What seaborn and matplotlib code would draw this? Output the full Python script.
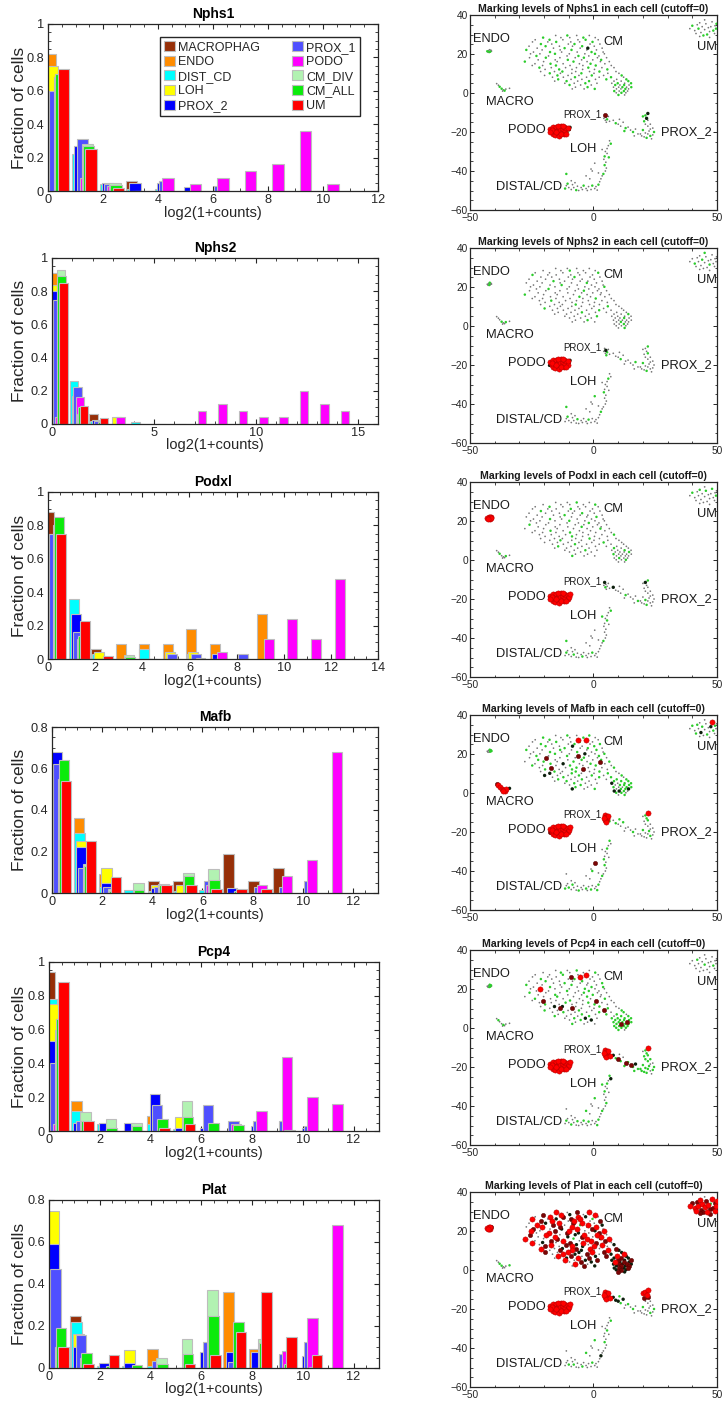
import numpy as np
import matplotlib
matplotlib.use("Agg")
import matplotlib.pyplot as plt
import seaborn as sns
from matplotlib.patches import Patch
from matplotlib.ticker import MultipleLocator, FuncFormatter

# ---------------- DATA ----------------
GROUPS = ['MACROPHAG', 'ENDO', 'DIST_CD', 'LOH', 'PROX_2',
          'PROX_1', 'PODO', 'CM_DIV', 'CM_ALL', 'UM']
GENES = ['Nphs1', 'Nphs2', 'Podxl', 'Mafb', 'Pcp4', 'Plat']

# fraction of cells per integer log2(1+counts) bin (index = bin)
NPHS1 = {
    'MACROPHAG': [0.80, 0, 0, 0.06],
    'ENDO': [0.82],
    'DIST_CD': [0.70, 0.22, 0.04, 0.01, 0.01],
    'LOH': [0.75, 0.20],
    'PROX_2': [0.56, 0.27, 0.05, 0.05, 0.05, 0.025],
    'PROX_1': [0.60, 0.31, 0.04, 0, 0.06, 0, 0.03],
    'PODO': [0, 0.08, 0.03, 0, 0.08, 0.04, 0.08, 0.12, 0.16, 0.36, 0.04],
    'CM_DIV': [0.68, 0.28, 0.045],
    'CM_ALL': [0.70, 0.27, 0.035],
    'UM': [0.73, 0.25, 0.02],
}
NPHS2 = {
    'MACROPHAG': [0.85, 0, 0.06],
    'ENDO': [0.91],
    'DIST_CD': [0.70, 0.26, 0.02, 0, 0.012],
    'LOH': [0.84, 0, 0, 0.04],
    'PROX_2': [0.80, 0.17, 0.025],
    'PROX_1': [0.75, 0.22, 0.02],
    'PODO': [0.04, 0.16, 0, 0.04, 0, 0, 0, 0.08, 0.12, 0.08, 0.04, 0.04, 0.20, 0.12, 0.08],
    'CM_DIV': [0.93, 0.06],
    'CM_ALL': [0.89, 0.10, 0.01],
    'UM': [0.85, 0.11, 0.035],
}
PODXL = {
    'MACROPHAG': [0.88, 0, 0.06],
    'ENDO': [0, 0, 0, 0.09, 0.09, 0.09, 0.18, 0.09, 0, 0.27],
    'DIST_CD': [0.60, 0.36, 0.03, 0, 0.06, 0, 0.03],
    'LOH': [0.75, 0, 0.04, 0, 0, 0.04, 0.04],
    'PROX_2': [0.71, 0.27, 0, 0, 0, 0, 0, 0.03],
    'PROX_1': [0.75, 0.16, 0, 0, 0, 0.03, 0.03, 0, 0.03],
    'PODO': [0, 0, 0, 0, 0, 0, 0, 0.04, 0, 0.12, 0.24, 0.12, 0.48],
    'CM_DIV': [0.80, 0.12, 0, 0.025],
    'CM_ALL': [0.85, 0.14, 0, 0.01, 0, 0, 0.005],
    'UM': [0.75, 0.23, 0.02],
}
MAFB = {
    'MACROPHAG': [0.30, 0, 0, 0, 0.06, 0.06, 0, 0.19, 0.06, 0.12],
    'ENDO': [0.45, 0.36, 0.09],
    'DIST_CD': [0.50, 0.29, 0.03, 0.015, 0.01, 0.01, 0.015],
    'LOH': [0.50, 0.25, 0.12, 0, 0.04, 0.04],
    'PROX_2': [0.68, 0.22, 0.05, 0, 0.025, 0, 0, 0.025],
    'PROX_1': [0.62, 0.12, 0.03, 0, 0.03, 0, 0.06, 0, 0.03, 0.03, 0.06],
    'PODO': [0, 0, 0, 0, 0, 0, 0.04, 0, 0.04, 0.08, 0.16, 0.68],
    'CM_DIV': [0.55, 0.14, 0.02, 0.05, 0.045, 0.095, 0.115],
    'CM_ALL': [0.64, 0.13, 0.01, 0.015, 0.04, 0.08, 0.065, 0.01],
    'UM': [0.54, 0.25, 0.075, 0, 0.04, 0.04, 0.02, 0.02, 0.02],
}
PCP4 = {
    'MACROPHAG': [0.94],
    'ENDO': [0.70, 0.18, 0, 0, 0.09],
    'DIST_CD': [0.78, 0.12, 0.04, 0, 0.04, 0.01],
    'LOH': [0.75, 0, 0, 0, 0, 0.085],
    'PROX_2': [0.53, 0.05, 0.05, 0.05, 0.22, 0.02, 0.015, 0, 0.03, 0, 0.02],
    'PROX_1': [0.40, 0.06, 0, 0, 0.155, 0, 0.155, 0.06, 0.06, 0.06, 0.03],
    'PODO': [0.04, 0, 0, 0, 0, 0, 0, 0.04, 0.12, 0.44, 0.20, 0.16],
    'CM_DIV': [0.60, 0.115, 0.07, 0.045, 0, 0.18],
    'CM_ALL': [0.66, 0.06, 0.02, 0.03, 0.07, 0.08, 0.045, 0.035, 0, 0.005],
    'UM': [0.88, 0.06, 0, 0, 0.02, 0.04],
}
PLAT = {
    'MACROPHAG': [0.50, 0.25],
    'ENDO': [0.40, 0, 0, 0, 0.09, 0, 0, 0.36, 0.09],
    'DIST_CD': [0.60, 0.22, 0.01, 0.01, 0.01],
    'LOH': [0.75, 0.16, 0, 0.085],
    'PROX_2': [0.59, 0.10, 0.025, 0.025, 0, 0, 0.075, 0.075, 0.075, 0, 0.055],
    'PROX_1': [0.47, 0.155, 0, 0, 0.035, 0, 0.125, 0.03, 0, 0.065, 0.125],
    'PODO': [0, 0, 0, 0, 0, 0, 0, 0, 0, 0.08, 0.24, 0.68],
    'CM_DIV': [0.10, 0.05, 0, 0, 0.05, 0.14, 0.37, 0.20, 0.14],
    'CM_ALL': [0.19, 0.07, 0.01, 0.015, 0.02, 0.065, 0.25, 0.22, 0.12, 0.02, 0.005],
    'UM': [0.10, 0.02, 0.06, 0, 0, 0.02, 0.06, 0.17, 0.36, 0.15, 0.06],
}
HIST = {'Nphs1': NPHS1, 'Nphs2': NPHS2, 'Podxl': PODXL,
        'Mafb': MAFB, 'Pcp4': PCP4, 'Plat': PLAT}
HIST_XMAX = {'Nphs1': 12, 'Nphs2': 16, 'Podxl': 14, 'Mafb': 13, 'Pcp4': 13, 'Plat': 13}
HIST_XSTEP = {'Nphs1': 2, 'Nphs2': 5, 'Podxl': 2, 'Mafb': 2, 'Pcp4': 2, 'Plat': 2}
HIST_YMAX = {'Nphs1': 1, 'Nphs2': 1, 'Podxl': 1, 'Mafb': 0.8, 'Pcp4': 1, 'Plat': 0.8}

# t-SNE cell coordinates (same map in every panel)
CM_ROWS_Y = [29.5, 28.4, 27.3, 26.2, 25.1, 24.0, 23.0, 22.1, 21.0, 20.1, 19.0, 18.1,
             17.0, 16.1, 15.0, 14.1, 13.0, 12.1, 11.0, 10.1, 9.0, 8.1, 7.0, 6.1,
             5.0, 4.1, 3.0, 2.1, 1.0, 0.1, -1.0]
CM_ROWS_X = [
    [-15.3, -10.6, -6.8, -1.7],
    [-20.4, -13.2, -9.6, -4.1, 0.7],
    [-23.6, -17.8, -12.4, -6.3, -3.2, 1.9],
    [-24.7, -18.5, -15.1, -9.2, -5.6, -0.4],
    [-21.3, -16.9, -10.2, -7.7, -1.4, 2.6],
    [-26.1, -19.4, -13.8, -8.5, -4.6, 0.3],
    [-22.8, -16.2, -11.7, -5.4, -2.3, 3.5],
    [-27.2, -20.8, -13.5, -8.9, -2.7, 1.2],
    [-24.3, -17.6, -12.9, -6.6, -0.8, 3.9],
    [-25.5, -21.7, -15.6, -9.8, -3.5, 0.6, 4.4],
    [-23.1, -18.2, -10.7, -6.1, -1.9, 2.2],
    [-25.9, -19.3, -13.6, -7.4, -3.9, 1.6, 5.3],
    [-22.4, -15.5, -10.4, -4.8, -0.3, 3.1],
    [-27.8, -20.2, -14.7, -8.1, -2.6, 2.8, 6.4],
    [-23.7, -17.4, -12.3, -5.7, -1.2, 4.6],
    [-24.8, -20.6, -15.2, -9.5, -4.3, 0.9, 7.2],
    [-21.9, -17.1, -11.3, -6.9, -2.1, 3.4, 8.3],
    [-19.6, -13.9, -8.7, -4.4, 0.4, 5.6],
    [-21.4, -15.8, -12.6, -7.2, -1.6, 2.4, 9.1],
    [-17.7, -13.4, -8.8, -4.9, 0.2, 5.8, 10.3],
    [-19.8, -14.6, -10.3, -5.9, -0.7, 4.1, 11.4],
    [-16.6, -12.2, -7.5, -2.8, 2.3, 7.1, 12.2],
    [-14.3, -9.1, -4.7, 0.8, 5.2, 9.4, 13.3],
    [-15.7, -10.9, -6.4, -1.8, 8.3, 11.2, 14.1],
    [-11.6, -7.8, -3.3, 1.4, 7.4, 9.8, 12.6, 15.2],
    [-9.7, -5.2, -0.9, 8.8, 10.7, 12.4, 14.4],
    [-7.3, -2.4, 8.1, 10.2, 11.7, 13.4, 15.3],
    [-8.6, -3.8, 0.5, 9.3, 11.1, 12.9, 14.2],
    [8.4, 10.4, 12.3, 13.8],
    [9.2, 11.3, 13.1],
    [10.1, 12.6],
]
UM_X = [39, 40, 41, 42, 42.5, 43, 43.5, 44, 44.5, 45, 45.5, 46, 46.5, 47, 47.5, 48, 48.5, 49, 49.2, 49.6, 45, 41.5, 47, 49.8, 43]
UM_Y = [33, 34.5, 32, 35, 33, 36, 31, 34, 29.5, 32.5, 35.5, 30, 33.5, 31.5, 34, 36.5, 32, 30.5, 34.5, 33, 37.5, 30.5, 28.5, 35.5, 29]
ENDO_X = [-42.5, -41.8, -42.2, -41.5, -43.0, -42.0, -41.3, -42.7]
ENDO_Y = [21.8, 21.2, 21.0, 21.9, 21.4, 22.2, 21.5, 20.9]
MACRO_X = [-39.2, -38.5, -38.0, -37.2, -36.5, -36.0, -35.5, -34.0, -36.8]
MACRO_Y = [4.8, 4.0, 3.2, 2.2, 1.6, 1.2, 2.0, 2.4, 1.0]
PODO_X = [-17.5, -17.0, -16.5, -16.2, -15.8, -15.5, -15.0, -14.8, -14.5, -14.0,
          -13.8, -13.5, -13.0, -12.8, -12.5, -12.0, -11.8, -11.5, -11.0, -10.5,
          -10.2, -16.8, -15.2, -14.2, -13.2, -12.2, -11.2, -9.8, -17.8, -9.5]
PODO_Y = [-18.5, -19.8, -17.5, -20.8, -18.8, -21.5, -17.2, -19.5, -20.5, -18.0,
          -21.8, -19.0, -17.0, -20.0, -18.5, -21.0, -17.5, -19.5, -18.2, -20.2,
          -17.8, -19.0, -20.0, -16.8, -20.8, -16.8, -20.8, -18.8, -20.2, -17.6]
PROX1_X = [4.5, 5.0, 5.5, 4.8, 6.0, 5.2, 6.5, 4.2]
PROX1_Y = [-11.5, -12.5, -13.5, -14.0, -12.0, -15.0, -14.5, -13.0]
TRAIL_X = [8, 9, 10, 11, 12, 13, 14, 15, 16, 17, 18, 10.5, 12.5, 16.5]
TRAIL_Y = [-14, -15.5, -16, -17, -15, -18, -17.5, -19, -20, -18.5, -21, -13.5, -19.5, -22]
PROX2_X = [20, 21, 22, 21.5, 20.5, 21, 22, 23, 20, 21, 22, 23, 24, 19.5, 21.5, 23.5,
           24.5, 22.5, 19, 20.5, 24, 22, 23]
PROX2_Y = [-12, -11.5, -10.5, -13, -14.5, -16, -17, -18.5, -19, -20.5, -21, -22, -21.5,
           -22, -23, -23.5, -20, -19.5, -21, -22.5, -18, -14, -16]
LOH_X = [6.5, 7, 6, 5.5, 4.8, 5.5, 4.5, 4.2, 5, 4.5, 5.2, 4.8, 3.5, 6.2, 0.5, -1, 2]
LOH_Y = [-24.5, -26, -27, -28.5, -30, -31, -32.5, -34, -35.5, -37, -38.5, -40, -29, -33, -36, -39, -41]
DIST_X = [-11.5, -11, -10, -10.5, -9, -8.5, -8, -7, -6.5, -6, -5, -4.5, -4, -3, -2.5, -2,
          -1, -0.5, 0.5, 1, 2, 2.5, 3, 3.5, 4, -1.5, -3, -0.5, -9, -11, 1.5, -7.5]
DIST_Y = [-49, -47.5, -48.5, -46.5, -49.5, -47, -48.5, -49.8, -47.8, -50, -48.5, -49.5,
          -47.5, -49, -50, -48, -49.5, -47.5, -49, -48, -47, -45.5, -44, -42.5, -41.5,
          -44, -42.5, -40, -45, -41.5, -49.8, -46]
CLUSTERS = {'UM': (UM_X, UM_Y), 'ENDO': (ENDO_X, ENDO_Y), 'MACRO': (MACRO_X, MACRO_Y),
            'PODO': (PODO_X, PODO_Y), 'PROX_1': (PROX1_X, PROX1_Y), 'TRAIL': (TRAIL_X, TRAIL_Y),
            'PROX_2': (PROX2_X, PROX2_Y), 'LOH': (LOH_X, LOH_Y), 'DIST': (DIST_X, DIST_Y)}

# marking level of every cell: 0 none, 1 low (green), 2 mid (black), 3 high (dark red), 4 top (red)
NPHS1_CELLS = {
    'CM': ["0100", "10010", "010010", "001001", "100100", "010010", "001020", "100100",
           "010010", "0010010", "100100", "0100100", "001001", "1001000", "010010",
           "0010010", "1000100", "010001", "0010010", "1001000", "0100101", "0010010",
           "1000101", "0101001", "00100101", "1001010", "0100101", "0010010", "1010", "010", "10"],
    'UM': "0100100010010000100100010", 'ENDO': "01101000", 'MACRO': "001101000",
    'PODO': "444444444444444444414444444242", 'PROX_1': "30100000",
    'TRAIL': "01000100100010", 'PROX_2': "11221000100100101000000",
    'LOH': "01000010010001000", 'DIST': "10010001000010000100100010000100",
}
NPHS2_CELLS = {
    'CM': ["0000", "00100", "000001", "100000", "000100", "000000", "010000", "000010",
           "001000", "0000001", "010000", "0000100", "000000", "1000000", "000100",
           "0000010", "0100000", "000000", "0001000", "0000010", "1000000", "0000100",
           "0010000", "0000001", "00010000", "0000010", "0100000", "0000100", "0010", "000", "01"],
    'UM': "0010000100000100000010000", 'ENDO': "00100100", 'MACRO': "000100100",
    'PODO': "444444444444444444444444444222", 'PROX_1': "02100100",
    'TRAIL': "00010000010000", 'PROX_2': "00100000100000100000010",
    'LOH': "00100001000000100", 'DIST': "00010000100000010000001000000100",
}
PODXL_CELLS = {
    'CM': ["0010", "00001", "010000", "000100", "100000", "000010", "001000", "000001",
           "010000", "0001000", "000010", "1000000", "000100", "0000010", "010000",
           "0001000", "0000001", "001000", "0000100", "0100000", "0000010", "0010000",
           "1000000", "0000100", "00100010", "0000001", "0010000", "1000000", "0100", "001", "00"],
    'UM': "0100010000100001000100000", 'ENDO': "44344444", 'MACRO': "001000100",
    'PODO': "444444444444444444444444444444", 'PROX_1': "20010000",
    'TRAIL': "20000100001000", 'PROX_2': "02100000010000100000000",
    'LOH': "01000100000010000", 'DIST': "01000010000100000100000010000100",
}
MAFB_CELLS = {
    'CM': ["0101", "10010", "010440", "001010", "100101", "010201", "001010", "101001",
           "010100", "0010201", "101301", "0300100", "100101", "0101031", "012010",
           "1001010", "0301001", "101300", "0101010", "2010010", "2001101", "0100110",
           "1010011", "0100111", "01002011", "0100111", "1010011", "2010112", "2210", "110", "01"],
    'UM': "0101002100010024101001000", 'ENDO': "01010110", 'MACRO': "344444424",
    'PODO': "444444444444444444444444444434", 'PROX_1': "44444414",
    'TRAIL': "01001000100100", 'PROX_2': "01410000100100000100010",
    'LOH': "10010001010000300", 'DIST': "10100100010001001000100100010010",
}
PCP4_CELLS = {
    'CM': ["0010", "01001", "001040", "000340", "100100", "010010", "001001", "100100",
           "010011", "0400100", "001010", "1000100", "010010", "0010100", "100001",
           "0301030", "0010100", "100010", "0220010", "0330010", "1001031", "0100101",
           "0010110", "1001011", "01201111", "0121111", "0011131", "1001311", "1111", "111", "10"],
    'UM': "0001000001000000100000000", 'ENDO': "01110100", 'MACRO': "010010000",
    'PODO': "444444444444444444444444444444", 'PROX_1': "44444444",
    'TRAIL': "21310313121011", 'PROX_2': "01411110111011101111011",
    'LOH': "12010010001010100", 'DIST': "01001000100010010000100100100010",
}
PLAT_CELLS = {
    'CM': ["4034", "34204", "043420", "402341", "340403", "024340", "430142", "043404",
           "302430", "4034024", "043203", "3402440", "042304", "4031424", "034043",
           "4203430", "0432042", "304240", "4023403", "0342042", "3042432", "0423024",
           "4302342", "0243232", "40232323", "0324232", "4023232", "0322323", "2323", "232", "32"],
    'UM': "4343443434344314343404343", 'ENDO': "44434414", 'MACRO': "001100010",
    'PODO': "444444444444444444444444444444", 'PROX_1': "44444444",
    'TRAIL': "22212010100100", 'PROX_2': "44443000100100001000030",
    'LOH': "01000100010000100", 'DIST': "00100010000100000100002000100000",
}
CELLS = {'Nphs1': NPHS1_CELLS, 'Nphs2': NPHS2_CELLS, 'Podxl': PODXL_CELLS,
         'Mafb': MAFB_CELLS, 'Pcp4': PCP4_CELLS, 'Plat': PLAT_CELLS}

MAP_LABELS = ['ENDO', 'CM', 'UM', 'MACRO', 'PROX_1', 'PODO', 'PROX_2', 'LOH', 'DISTAL/CD']
MAP_LABEL_X = [-41.2, 8.1, 45.9, -33.7, -4.4, -26.9, 37.8, -4.1, -25.9]
MAP_LABEL_Y = [27.7, 26.3, 23.8, -4.8, -11.0, -19.0, -20.2, -28.9, -48.0]

# ---------------- STYLE ----------------
GROUP_COLORS = {'MACROPHAG': '#962F08', 'ENDO': '#FF8C00', 'DIST_CD': '#00FFFF',
                'LOH': '#FFFF00', 'PROX_2': '#0000FF', 'PROX_1': '#4F4FFF',
                'PODO': '#FF00FF', 'CM_DIV': '#B2F2B2', 'CM_ALL': '#0BEB0B', 'UM': '#FF0000'}
BAR_OFFSET = {'MACROPHAG': 0.04, 'ENDO': 0.08, 'DIST_CD': 0.09, 'LOH': 0.17, 'PROX_2': 0.17,
              'PROX_1': 0.26, 'PODO': 0.37, 'CM_DIV': 0.44, 'CM_ALL': 0.47, 'UM': 0.56}
BAR_WIDTH = 0.42
EDGE = '#BDBDBD'
LEVEL_STYLE = {0: ('#767676', 1.5, 0.0, 'none'),
               1: ('#2ccc2c', 3.2, 0.0, 'none'),
               2: ('#0d1f0d', 6.0, 0.0, 'none'),
               3: ('#7a0505', 10.0, 0.3, '#500000'),
               4: ('#ff0000', 14.0, 0.35, '#b00000')}
AXC = '#262626'

W, H = 724, 1405
HIST_RECTS = {'Nphs1': (48, 24, 378, 191), 'Nphs2': (52, 258, 378, 424),
              'Podxl': (48, 492, 378, 659), 'Mafb': (52, 727, 378, 893),
              'Pcp4': (49, 962, 379, 1131), 'Plat': (49, 1200, 379, 1368)}
MAP_TOPS = {'Nphs1': 15, 'Nphs2': 248, 'Podxl': 482, 'Mafb': 715, 'Pcp4': 950, 'Plat': 1192}
MAP_L, MAP_R, MAP_H = 470, 717, 195

sns.set_theme(style='ticks')
plt.rcParams['font.family'] = ['Liberation Sans', 'DejaVu Sans']
plt.rcParams['axes.linewidth'] = 0.9

fig = plt.figure(figsize=(W / 100, H / 100), dpi=100)


def px_rect(l, t, r, b):
    return [l / W, 1 - b / H, (r - l) / W, (b - t) / H]


fmt = FuncFormatter(lambda v, p: f'{v:g}')


def draw_group_bars(ax, g, heights):
    n = len(heights)
    xs = np.arange(n) + BAR_OFFSET[g]
    hs = np.asarray(heights, dtype=float)
    try:
        sns.barplot(x=xs, y=hs, native_scale=True, orient='x', width=BAR_WIDTH,
                    errorbar=None, color=GROUP_COLORS[g], saturation=1,
                    edgecolor=EDGE, linewidth=0.8, ax=ax)
    except Exception:
        ax.bar(xs, hs, width=BAR_WIDTH, color=GROUP_COLORS[g], edgecolor=EDGE,
               linewidth=0.8)


for gene in GENES:
    l, t, r, b = HIST_RECTS[gene]
    ax = fig.add_axes(px_rect(l, t, r, b))
    data = HIST[gene]
    for g in GROUPS:
        draw_group_bars(ax, g, data[g])
    ax.set_xlim(0, HIST_XMAX[gene])
    ax.set_ylim(0, HIST_YMAX[gene])
    ax.xaxis.set_major_locator(MultipleLocator(HIST_XSTEP[gene]))
    ax.xaxis.set_minor_locator(MultipleLocator(1 if gene == 'Nphs2' else 0.5))
    ax.yaxis.set_major_locator(MultipleLocator(0.2))
    ax.yaxis.set_minor_locator(MultipleLocator(0.05))
    ax.xaxis.set_major_formatter(fmt)
    ax.yaxis.set_major_formatter(fmt)
    ax.tick_params(which='both', direction='in', top=True, right=True, colors=AXC,
                   labelsize=9.2)
    ax.tick_params(which='major', length=3.5, width=0.8)
    ax.tick_params(which='minor', length=2, width=0.6)
    ax.tick_params(axis='x', pad=2.2)
    ax.tick_params(axis='y', pad=2.8)
    for s in ax.spines.values():
        s.set_visible(True)
        s.set_color(AXC)
        s.set_linewidth(0.9)
        s.set_zorder(5)
    ax.set_title(gene, fontsize=10, fontweight='bold', color='black', pad=4)
    ax.set_xlabel('log2(1+counts)', fontsize=10.5, color=AXC)
    ax.set_ylabel('Fraction of cells', fontsize=12.5, color=AXC)
    ax.xaxis.set_label_coords(0.5, -(14.5 / (b - t)))
    ax.yaxis.set_label_coords(-(l - 27) / (r - l), 0.5)
    if gene == 'Nphs1':
        handles = [Patch(facecolor=GROUP_COLORS[g], edgecolor=EDGE, linewidth=0.8, label=g)
                   for g in GROUPS]
        leg = ax.legend(handles=handles, ncol=2, loc='upper right',
                        bbox_to_anchor=((360 - l) / (r - l), (b - 37) / (b - t)),
                        borderaxespad=0, fontsize=9, frameon=True, fancybox=False,
                        handlelength=0.85, handleheight=0.85, handletextpad=0.25,
                        labelspacing=0.18, columnspacing=2.6, borderpad=0.35)
        leg.get_frame().set_edgecolor(AXC)
        leg.get_frame().set_linewidth(1.0)
        leg.get_frame().set_alpha(1)

    # ---- marking map ----
    top = MAP_TOPS[gene]
    ax2 = fig.add_axes(px_rect(MAP_L, top, MAP_R, top + MAP_H))
    cells = CELLS[gene]
    px, py, pl = [], [], []
    for y, rx, rl in zip(CM_ROWS_Y, CM_ROWS_X, cells['CM']):
        rl = (rl + '0' * len(rx))[:len(rx)]
        for x, c in zip(rx, rl):
            px.append(x); py.append(y); pl.append(int(c))
    for name, (cx, cy) in CLUSTERS.items():
        s = (cells[name] + '0' * len(cx))[:len(cx)]
        for x, y, c in zip(cx, cy, s):
            px.append(x); py.append(y); pl.append(int(c))
    px, py, pl = np.array(px), np.array(py), np.array(pl)
    for lev in range(5):
        m = pl == lev
        if not m.any():
            continue
        col, sz, lw, ec = LEVEL_STYLE[lev]
        sns.scatterplot(x=px[m], y=py[m], s=sz, color=col, linewidth=lw,
                        edgecolor=ec, ax=ax2, legend=False, zorder=2 + lev)
    for lab, x, y in zip(MAP_LABELS, MAP_LABEL_X, MAP_LABEL_Y):
        ax2.text(x, y, lab, ha='center', va='center',
                 fontsize=7 if lab == 'PROX_1' else 9.3, color='#1a1a1a', zorder=10)
    ax2.set_xlim(-50, 50)
    ax2.set_ylim(-60, 40)
    ax2.xaxis.set_major_locator(MultipleLocator(50))
    ax2.xaxis.set_minor_locator(MultipleLocator(10))
    ax2.yaxis.set_major_locator(MultipleLocator(20))
    ax2.yaxis.set_minor_locator(MultipleLocator(5))
    ax2.tick_params(which='both', direction='in', top=True, right=True, colors=AXC,
                    labelsize=7.3)
    ax2.tick_params(axis='x', pad=2.0)
    ax2.tick_params(axis='y', pad=1.5)
    ax2.tick_params(which='major', length=3, width=0.7)
    ax2.tick_params(which='minor', length=1.8, width=0.6)
    for s in ax2.spines.values():
        s.set_visible(True)
        s.set_color(AXC)
        s.set_linewidth(0.9)
    ax2.set_xlabel('')
    ax2.set_ylabel('')
    ax2.set_title(f'Marking levels of {gene} in each cell (cutoff=0)',
                  fontsize=7.6, fontweight='bold', color='#1a1a1a', pad=2.5)

fig.savefig('out.png', dpi=100)
